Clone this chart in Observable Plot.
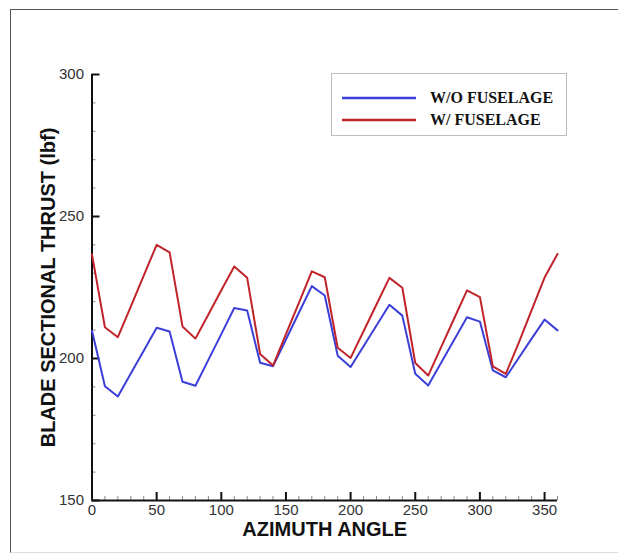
<!DOCTYPE html>
<html>
<head>
<meta charset="utf-8">
<script src="https://cdn.jsdelivr.net/npm/d3@7"></script>
<script src="https://cdn.jsdelivr.net/npm/@observablehq/plot@0.6"></script>
<style>
  html, body { margin: 0; padding: 0; background: #fff; }
  #wrap { position: relative; width: 618px; height: 556px; overflow: hidden; }
  #frame { position: absolute; left: 10px; top: 9px; width: 640px; height: 542px;
           border-left: 1.5px solid #555; border-top: 1.5px solid #555; border-bottom: 1px solid #dcdcdc; }
  #chart { position: absolute; left: 0; top: 0; }
  #legend { position: absolute; left: 331px; top: 73px; width: 234px; height: 61px;
            border: 1.5px solid #bdbdbd; background: #fff; }
  .key { position: absolute; left: 10px; height: 20px; display: flex; align-items: center; }
  .key svg { display: block; }
  .key span { margin-left: 14px; font: bold 16px "Liberation Serif", "Times New Roman", serif; color: #111; }
</style>
</head>
<body>
<div id="wrap">
  <div id="frame"></div>
  <div id="chart"></div>
  <div id="legend"></div>
</div>
<script>
// Azimuth angle of the blade (degrees)
const angle = [0, 10, 20, 30, 40, 50, 60, 70, 80, 90, 100, 110, 120, 130, 140, 150, 160, 170, 180,
               190, 200, 210, 220, 230, 240, 250, 260, 270, 280, 290, 300, 310, 320, 330, 340, 350, 360];

// Blade sectional thrust (lbf), isolated rotor
const withoutFuselage = [209.8, 190.2, 186.6, 194.7, 202.7, 210.8, 209.5, 191.8, 190.4, 199.5,
                         208.6, 217.8, 216.9, 198.5, 197.3, 206.7, 216.1, 225.5, 222.2, 201.0,
                         197.0, 204.3, 211.6, 218.9, 215.1, 194.6, 190.5, 198.5, 206.5, 214.5,
                         213.0, 195.8, 193.4, 200.2, 207.0, 213.7, 209.9];

// Blade sectional thrust (lbf), rotor with fuselage
const withFuselage = [236.6, 211.0, 207.5, 218.3, 229.2, 240.0, 237.4, 211.3, 207.0, 215.5,
                      224.0, 232.4, 228.4, 201.6, 197.5, 208.6, 219.6, 230.7, 228.6, 203.8,
                      200.2, 209.6, 219.0, 228.4, 224.9, 198.4, 194.0, 204.0, 214.0, 224.0,
                      221.6, 197.2, 194.6, 205.5, 217.0, 228.5, 236.8];

const seriesNames = ["W/O FUSELAGE", "W/ FUSELAGE"];
const seriesColors = ["#3b3fd8", "#c0242a"];

const xTicks = [0, 50, 100, 150, 200, 250, 300, 350];
const xMinorTicks = d3.range(0, 361, 10).filter(v => v % 50 !== 0);
const yTicks = [150, 200, 250, 300];
const yMinorTicks = d3.range(150, 301, 10).filter(v => v % 50 !== 0);

const xTitle = "AZIMUTH ANGLE";
const yTitle = "BLADE SECTIONAL THRUST (lbf)";

const rows = [
  ...angle.map((a, i) => ({angle: a, thrust: withoutFuselage[i], series: seriesNames[0]})),
  ...angle.map((a, i) => ({angle: a, thrust: withFuselage[i], series: seriesNames[1]}))
];

const sansFont = "'Liberation Sans', Arial, Helvetica, sans-serif";

const chart = Plot.plot({
  width: 618,
  height: 556,
  marginLeft: 91.5,
  marginRight: 61,
  marginTop: 74,
  marginBottom: 56,
  style: {fontFamily: sansFont, fontSize: "15px", color: "#333", background: "transparent", overflow: "visible"},
  x: {domain: [0, 360], label: null},
  y: {domain: [150, 300], label: null},
  color: {domain: seriesNames, range: seriesColors},
  marks: [
    // minor and major inward ticks
    Plot.axisX(xMinorTicks, {tickSize: -4, fill: "none", stroke: "#888", strokeWidth: 1}),
    Plot.axisX(xTicks, {tickSize: -8, fill: "none", stroke: "#111", strokeWidth: 2}),
    Plot.axisX(xTicks, {tickSize: 0, tickPadding: 4, fill: "#333", fontSize: 15}),
    Plot.axisY(yMinorTicks, {tickSize: -4, fill: "none", stroke: "#888", strokeWidth: 1}),
    Plot.axisY(yTicks, {tickSize: -8, fill: "none", stroke: "#111", strokeWidth: 2}),
    Plot.axisY(yTicks, {tickSize: 0, tickPadding: 8, fill: "#333", fontSize: 15}),
    // axis lines
    Plot.ruleX([0], {stroke: "#111", strokeWidth: 2}),
    Plot.ruleY([150], {stroke: "#111", strokeWidth: 2}),
    // series
    Plot.line(rows, {x: "angle", y: "thrust", z: "series", stroke: "series", strokeWidth: 2}),
    // axis titles
    Plot.text([xTitle], {frameAnchor: "bottom", dy: 29, lineAnchor: "middle", textAnchor: "middle",
                         fontSize: 20, fontWeight: "bold", fill: "#111"}),
    Plot.text([yTitle], {frameAnchor: "left", dx: -43.5, rotate: -90, lineAnchor: "middle", textAnchor: "middle",
                         fontSize: 20, fontWeight: "bold", fill: "#111"})
  ]
});
document.getElementById("chart").appendChild(chart);

// legend
const legend = document.getElementById("legend");
seriesNames.forEach((name, i) => {
  const key = document.createElement("div");
  key.className = "key";
  key.style.top = (14 + i * 21.5) + "px";
  key.innerHTML = `<svg width="74" height="4"><line x1="0" x2="74" y1="2" y2="2" stroke="${seriesColors[i]}" stroke-width="2.5"/></svg><span>${name}</span>`;
  legend.appendChild(key);
});
</script>
</body>
</html>
